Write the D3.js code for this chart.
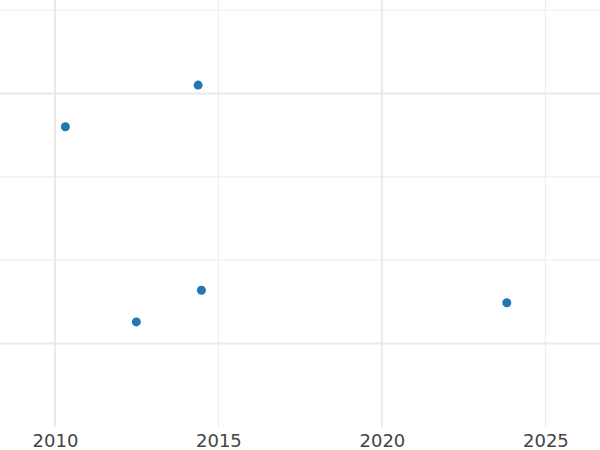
<!DOCTYPE html>
<html>
<head>
<meta charset="utf-8">
<script src="https://cdn.jsdelivr.net/npm/d3@7"></script>
<style>
  html, body { margin: 0; padding: 0; background: #fff; }
  svg { display: block; }
</style>
</head>
<body>
<svg id="chart" width="600" height="450"></svg>
<script>
// ---- data ----
const years = [2010.32, 2014.38, 2012.49, 2014.48, 2023.82];
const values = [2.60, 3.10, 0.26, 0.64, 0.49];
const xTickLabels = [2010, 2015, 2020, 2025];
const xMajorTicks = [2010, 2020];
const xMinorTicks = [2015, 2025];
const yMajorTicks = [0, 3];
const yMinorTicks = [1, 2, 4];

// ---- layout ----
const W = 600, H = 450;
const plotBottom = 427;
const svg = d3.select("#chart");

const x = d3.scaleLinear().domain([2008.32, 2026.67]).range([0, W]);
const y = d3.scaleLinear().domain([-1.0, 4.12]).range([plotBottom, 0]);

const grid = svg.append("g");
// minor gridlines
grid.selectAll("line.vmin").data(xMinorTicks).enter().append("line")
  .attr("x1", d => x(d)).attr("x2", d => x(d))
  .attr("y1", 0).attr("y2", plotBottom)
  .attr("stroke", "#ececec").attr("stroke-width", 1);
grid.selectAll("line.hmin").data(yMinorTicks).enter().append("line")
  .attr("x1", 0).attr("x2", W)
  .attr("y1", d => y(d)).attr("y2", d => y(d))
  .attr("stroke", "#ececec").attr("stroke-width", 1);
// major gridlines
grid.selectAll("line.vmaj").data(xMajorTicks).enter().append("line")
  .attr("x1", d => x(d)).attr("x2", d => x(d))
  .attr("y1", 0).attr("y2", plotBottom)
  .attr("stroke", "#e9e9e9").attr("stroke-width", 2);
grid.selectAll("line.hmaj").data(yMajorTicks).enter().append("line")
  .attr("x1", 0).attr("x2", W)
  .attr("y1", d => y(d)).attr("y2", d => y(d))
  .attr("stroke", "#e9e9e9").attr("stroke-width", 2);

// x axis labels
const xAxis = d3.axisBottom(x).tickValues(xTickLabels).tickFormat(d3.format("d")).tickSize(0).tickPadding(0);
const ax = svg.append("g").attr("transform", `translate(0,${plotBottom})`).call(xAxis);
ax.select(".domain").remove();
ax.selectAll("text")
  .attr("dy", null).attr("y", 20)
  .attr("font-family", "DejaVu Sans, sans-serif")
  .attr("font-size", 18)
  .attr("fill", "#444");

// points
svg.append("g").selectAll("circle").data(years).enter().append("circle")
  .attr("cx", d => x(d))
  .attr("cy", (d, i) => y(values[i]))
  .attr("r", 4.5)
  .attr("fill", "#1f77b4");
</script>
</body>
</html>
